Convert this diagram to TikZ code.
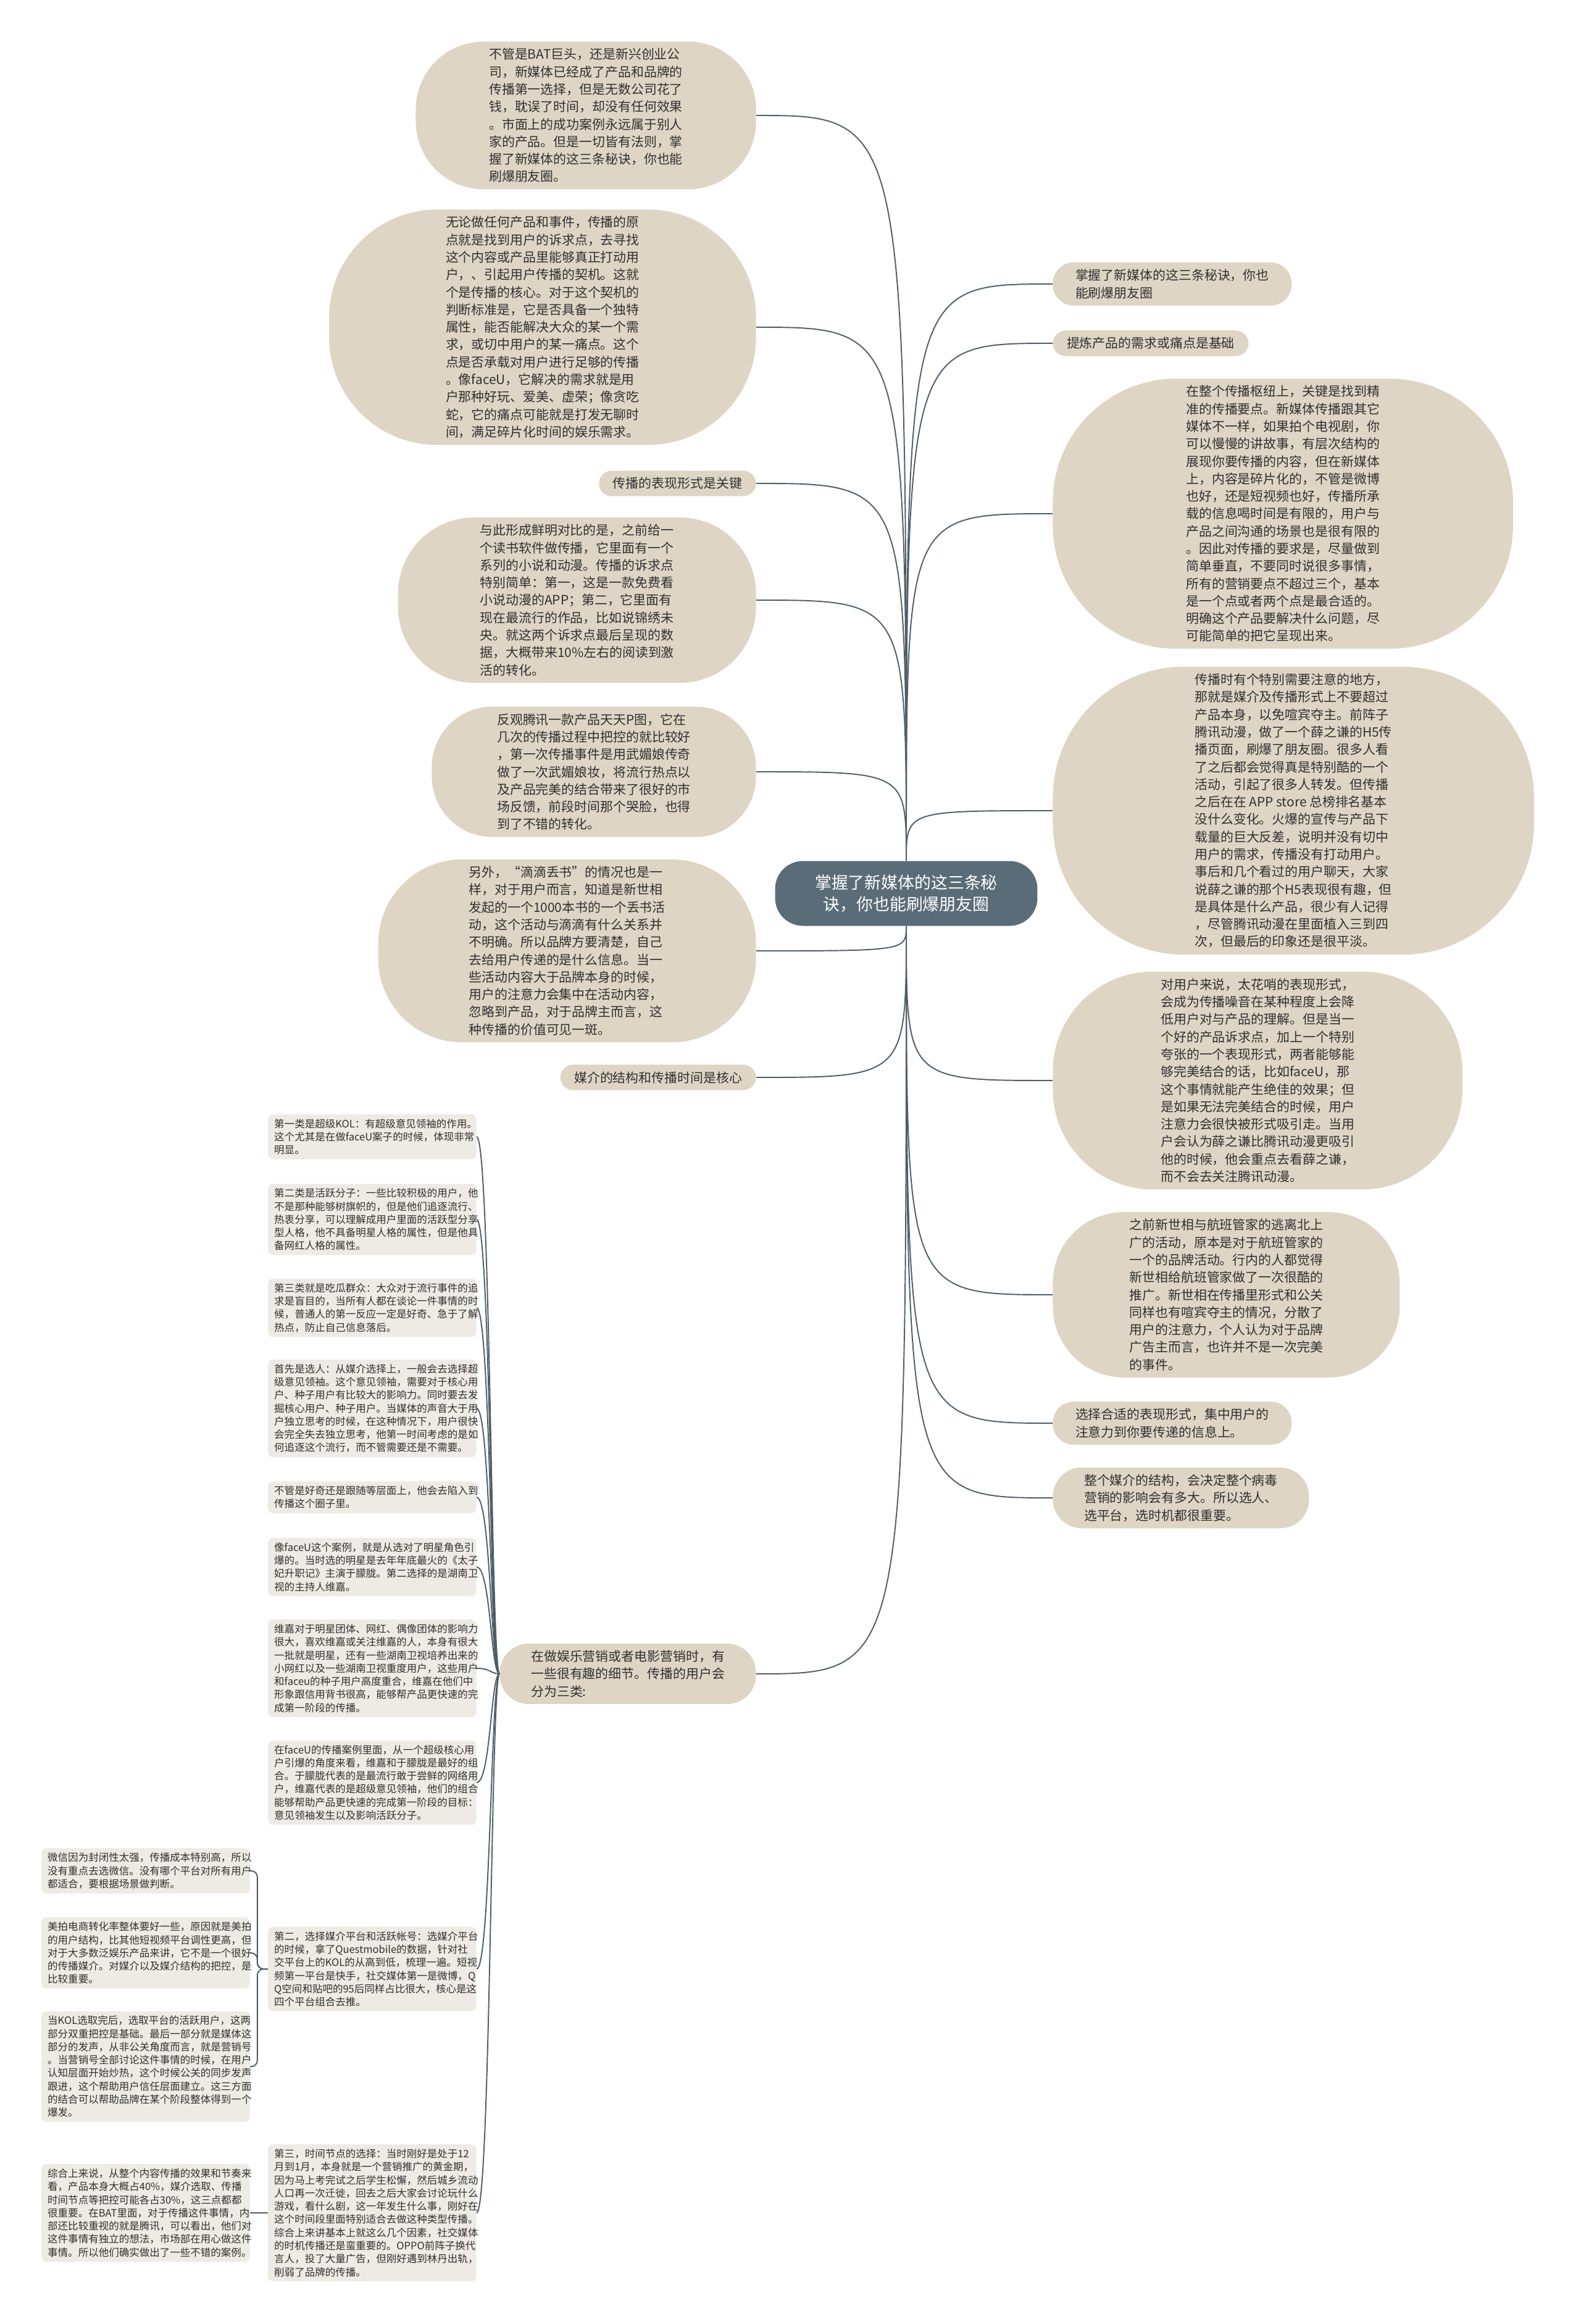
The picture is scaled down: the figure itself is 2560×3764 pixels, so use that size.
\documentclass[tikz,border=0pt]{standalone}
\usepackage{fontspec}
\setmainfont{Noto Sans CJK SC}
\usepackage{tikz}
\usetikzlibrary{backgrounds}
\definecolor{mapslate}{HTML}{5A6C78}
\definecolor{mapline}{HTML}{4D5E6A}
\definecolor{mapsand}{HTML}{DED5C5}
\definecolor{mapcream}{HTML}{EEEBE5}
\definecolor{mapink}{HTML}{303030}

\begin{document}
\begin{tikzpicture}[
    x=0.02cm, y=-0.02cm,
    hub/.style={fill=mapslate, text=white, rounded corners=0.9cm, minimum width=8.5cm,
                minimum height=2.1cm, align=center, font=\fontsize{15.3}{20.4}\selectfont},
    bubble/.style={rectangle, rounded corners=#1, inner xsep=1.08*#1, inner ysep=0.22cm, fill=mapsand,
                   text=mapink, align=left, font=\fontsize{11.9}{16.1}\selectfont},
    leaf/.style={rectangle, rounded corners=0.16cm, fill=mapcream, text=mapink, text width=6.35cm,
                 align=left, inner xsep=0.2cm, inner ysep=0.15cm, font=\fontsize{9.4}{12.1}\selectfont},
    link/.style={draw=mapline, line width=1.1pt},
]
    \useasboundingbox (0, 0) rectangle (2560, 3764);

    \node[hub] (centre) at (1468, 1447) {掌握了新媒体的这三条秘\\诀，你也能刷爆朋友圈};

    % left branch
    \node[bubble=2.2cm, anchor=east] (left1) at (1225, 187) {不管是BAT巨头，还是新兴创业公\\司，新媒体已经成了产品和品牌的\\传播第一选择，但是无数公司花了\\钱，耽误了时间，却没有任何效果\\。市面上的成功案例永远属于别人\\家的产品。但是一切皆有法则，掌\\握了新媒体的这三条秘诀，你也能\\刷爆朋友圈。};
    \node[bubble=3.5cm, anchor=east] (left2) at (1225, 530) {无论做任何产品和事件，传播的原\\点就是找到用户的诉求点，去寻找\\这个内容或产品里能够真正打动用\\户，、引起用户传播的契机。这就\\个是传播的核心。对于这个契机的\\判断标准是，它是否具备一个独特\\属性，能否能解决大众的某一个需\\求，或切中用户的某一痛点。这个\\点是否承载对用户进行足够的传播\\。像faceU，它解决的需求就是用\\户那种好玩、爱美、虚荣；像贪吃\\蛇，它的痛点可能就是打发无聊时\\间，满足碎片化时间的娱乐需求。};
    \node[bubble=0.42cm, anchor=east] (left3) at (1225, 783) {传播的表现形式是关键};
    \node[bubble=2.46cm, anchor=east] (left4) at (1225, 972) {与此形成鲜明对比的是，之前给一\\个读书软件做传播，它里面有一个\\系列的小说和动漫。传播的诉求点\\特别简单：第一，这是一款免费看\\小说动漫的APP；第二，它里面有\\现在最流行的作品，比如说锦绣未\\央。就这两个诉求点最后呈现的数\\据，大概带来10\%左右的阅读到激\\活的转化。};
    \node[bubble=1.96cm, anchor=east] (left5) at (1225, 1250) {反观腾讯一款产品天天P图，它在\\几次的传播过程中把控的就比较好\\，第一次传播事件是用武媚娘传奇\\做了一次武媚娘妆，将流行热点以\\及产品完美的结合带来了很好的市\\场反馈，前段时间那个哭脸，也得\\到了不错的转化。};
    \node[bubble=2.72cm, anchor=east] (left6) at (1225, 1540) {另外，“滴滴丢书”的情况也是一\\样，对于用户而言，知道是新世相\\发起的一个1000本书的一个丢书活\\动，这个活动与滴滴有什么关系并\\不明确。所以品牌方要清楚，自己\\去给用户传递的是什么信息。当一\\些活动内容大于品牌本身的时候，\\用户的注意力会集中在活动内容，\\忽略到产品，对于品牌主而言，这\\种传播的价值可见一斑。};
    \node[bubble=0.42cm, anchor=east] (left7) at (1225, 1745) {媒介的结构和传播时间是核心};
    \node[bubble=0.94cm, anchor=east] (left8) at (1225, 2711) {在做娱乐营销或者电影营销时，有\\一些很有趣的细节。传播的用户会\\分为三类:};

    % right branch
    \node[bubble=0.68cm, anchor=west] (right1) at (1705, 460) {掌握了新媒体的这三条秘诀，你也\\能刷爆朋友圈};
    \node[bubble=0.42cm, anchor=west] (right2) at (1705, 556) {提炼产品的需求或痛点是基础};
    \node[bubble=4.0cm, anchor=west] (right3) at (1705, 832) {在整个传播枢纽上，关键是找到精\\准的传播要点。新媒体传播跟其它\\媒体不一样，如果拍个电视剧，你\\可以慢慢的讲故事，有层次结构的\\展现你要传播的内容，但在新媒体\\上，内容是碎片化的，不管是微博\\也好，还是短视频也好，传播所承\\载的信息喝时间是有限的，用户与\\产品之间沟通的场景也是很有限的\\。因此对传播的要求是，尽量做到\\简单垂直，不要同时说很多事情，\\所有的营销要点不超过三个，基本\\是一个点或者两个点是最合适的。\\明确这个产品要解决什么问题，尽\\可能简单的把它呈现出来。};
    \node[bubble=4.26cm, anchor=west] (right4) at (1705, 1313) {传播时有个特别需要注意的地方，\\那就是媒介及传播形式上不要超过\\产品本身，以免喧宾夺主。前阵子\\腾讯动漫，做了一个薛之谦的H5传\\播页面，刷爆了朋友圈。很多人看\\了之后都会觉得真是特别酷的一个\\活动，引起了很多人转发。但传播\\之后在在 APP store 总榜排名基本\\没什么变化。火爆的宣传与产品下\\载量的巨大反差，说明并没有切中\\用户的需求，传播没有打动用户。\\事后和几个看过的用户聊天，大家\\说薛之谦的那个H5表现很有趣，但\\是具体是什么产品，很少有人记得\\，尽管腾讯动漫在里面植入三到四\\次，但最后的印象还是很平淡。};
    \node[bubble=3.24cm, anchor=west] (right5) at (1705, 1750) {对用户来说，太花哨的表现形式，\\会成为传播噪音在某种程度上会降\\低用户对与产品的理解。但是当一\\个好的产品诉求点，加上一个特别\\夸张的一个表现形式，两者能够能\\够完美结合的话，比如faceU，那\\这个事情就能产生绝佳的效果；但\\是如果无法完美结合的时候，用户\\注意力会很快被形式吸引走。当用\\户会认为薛之谦比腾讯动漫更吸引\\他的时候，他会重点去看薛之谦，\\而不会去关注腾讯动漫。};
    \node[bubble=2.3cm, anchor=west] (right6) at (1705, 2097) {之前新世相与航班管家的逃离北上\\广的活动，原本是对于航班管家的\\一个的品牌活动。行内的人都觉得\\新世相给航班管家做了一次很酷的\\推广。新世相在传播里形式和公关\\同样也有喧宾夺主的情况，分散了\\用户的注意力，个人认为对于品牌\\广告主而言，也许并不是一次完美\\的事件。};
    \node[bubble=0.68cm, anchor=west] (right7) at (1705, 2305) {选择合适的表现形式，集中用户的\\注意力到你要传递的信息上。};
    \node[bubble=0.94cm, anchor=west] (right8) at (1705, 2426) {整个媒介的结构，会决定整个病毒\\营销的影响会有多大。所以选人、\\选平台，选时机都很重要。};

    % three kinds of users and the detail boxes
    \node[leaf, anchor=east] (tip1) at (772, 1841) {第一类是超级KOL：有超级意见领袖的作用。\\这个尤其是在做faceU案子的时候，体现非常\\明显。};
    \node[leaf, anchor=east] (tip2) at (772, 1975) {第二类是活跃分子：一些比较积极的用户，他\\不是那种能够树旗帜的，但是他们追逐流行、\\热衷分享，可以理解成用户里面的活跃型分享\\型人格，他不具备明星人格的属性，但是他具\\备网红人格的属性。};
    \node[leaf, anchor=east] (tip3) at (772, 2118) {第三类就是吃瓜群众：大众对于流行事件的追\\求是盲目的，当所有人都在谈论一件事情的时\\候，普通人的第一反应一定是好奇、急于了解\\热点，防止自己信息落后。};
    \node[leaf, anchor=east] (tip4) at (772, 2281) {首先是选人：从媒介选择上，一般会去选择超\\级意见领袖。这个意见领袖，需要对于核心用\\户、种子用户有比较大的影响力。同时要去发\\掘核心用户、种子用户。当媒体的声音大于用\\户独立思考的时候，在这种情况下，用户很快\\会完全失去独立思考，他第一时间考虑的是如\\何追逐这个流行，而不管需要还是不需要。};
    \node[leaf, anchor=east] (tip5) at (772, 2425) {不管是好奇还是跟随等层面上，他会去陷入到\\传播这个圈子里。};
    \node[leaf, anchor=east] (tip6) at (772, 2538) {像faceU这个案例，就是从选对了明星角色引\\爆的。当时选的明星是去年年底最火的《太子\\妃升职记》主演于朦胧。第二选择的是湖南卫\\视的主持人维嘉。};
    \node[leaf, anchor=east] (tip7) at (772, 2702) {维嘉对于明星团体、网红、偶像团体的影响力\\很大，喜欢维嘉或关注维嘉的人，本身有很大\\一批就是明星，还有一些湖南卫视培养出来的\\小网红以及一些湖南卫视重度用户，这些用户\\和faceu的种子用户高度重合，维嘉在他们中\\形象跟信用背书很高，能够帮产品更快速的完\\成第一阶段的传播。};
    \node[leaf, anchor=east] (tip8) at (772, 2887) {在faceU的传播案例里面，从一个超级核心用\\户引爆的角度来看，维嘉和于朦胧是最好的组\\合。于朦胧代表的是最流行敢于尝鲜的网络用\\户，维嘉代表的是超级意见领袖，他们的组合\\能够帮助产品更快速的完成第一阶段的目标：\\意见领袖发生以及影响活跃分子。};
    \node[leaf, anchor=east] (tip9) at (772, 3189) {第二，选择媒介平台和活跃帐号：选媒介平台\\的时候，拿了Questmobile的数据，针对社\\交平台上的KOL的从高到低，梳理一遍。短视\\频第一平台是快手，社交媒体第一是微博，Q\\Q空间和贴吧的95后同样占比很大，核心是这\\四个平台组合去推。};
    \node[leaf, anchor=east] (tip10) at (772, 3584) {第三，时间节点的选择：当时刚好是处于12\\月到1月，本身就是一个营销推广的黄金期，\\因为马上考完试之后学生松懈，然后城乡流动\\人口再一次迁徙，回去之后大家会讨论玩什么\\游戏，看什么剧，这一年发生什么事，刚好在\\这个时间段里面特别适合去做这种类型传播。\\综合上来讲基本上就这么几个因素，社交媒体\\的时机传播还是蛮重要的。OPPO前阵子换代\\言人，投了大量广告，但刚好遇到林丹出轨，\\削弱了品牌的传播。};

    \node[leaf, anchor=east] (plat1) at (405, 3030) {微信因为封闭性太强，传播成本特别高，所以\\没有重点去选微信。没有哪个平台对所有用户\\都适合，要根据场景做判断。};
    \node[leaf, anchor=east] (plat2) at (405, 3163) {美拍电商转化率整体要好一些，原因就是美拍\\的用户结构，比其他短视频平台调性更高，但\\对于大多数泛娱乐产品来讲，它不是一个很好\\的传播媒介。对媒介以及媒介结构的把控，是\\比较重要。};
    \node[leaf, anchor=east] (plat3) at (405, 3347) {当KOL选取完后，选取平台的活跃用户，这两\\部分双重把控是基础。最后一部分就是媒体这\\部分的发声，从非公关角度而言，就是营销号\\。当营销号全部讨论这件事情的时候，在用户\\认知层面开始炒热，这个时候公关的同步发声\\跟进，这个帮助用户信任层面建立。这三方面\\的结合可以帮助品牌在某个阶段整体得到一个\\爆发。};
    \node[leaf, anchor=east] (summary) at (405, 3584) {综合上来说，从整个内容传播的效果和节奏来\\看，产品本身大概占40\%，媒介选取、传播\\时间节点等把控可能各占30\%，这三点都都\\很重要。在BAT里面，对于传播这件事情，内\\部还比较重视的就是腾讯，可以看出，他们对\\这件事情有独立的想法，市场部在用心做这件\\事情。所以他们确实做出了一些不错的案例。};

    \coordinate (spine) at (795, 2711);

    \begin{scope}[on background layer]
        \draw[link] (centre) .. controls (centre |- left1.east) .. (left1.east);
        \draw[link] (centre) .. controls (centre |- left2.east) .. (left2.east);
        \draw[link] (centre) .. controls (centre |- left3.east) .. (left3.east);
        \draw[link] (centre) .. controls (centre |- left4.east) .. (left4.east);
        \draw[link] (centre) .. controls (centre |- left5.east) .. (left5.east);
        \draw[link] (centre) .. controls (centre |- left6.east) .. (left6.east);
        \draw[link] (centre) .. controls (centre |- left7.east) .. (left7.east);
        \draw[link] (centre) .. controls (centre |- left8.east) .. (left8.east);
        \draw[link] (centre) .. controls (centre |- right1.west) .. (right1.west);
        \draw[link] (centre) .. controls (centre |- right2.west) .. (right2.west);
        \draw[link] (centre) .. controls (centre |- right3.west) .. (right3.west);
        \draw[link] (centre) .. controls (centre |- right4.west) .. (right4.west);
        \draw[link] (centre) .. controls (centre |- right5.west) .. (right5.west);
        \draw[link] (centre) .. controls (centre |- right6.west) .. (right6.west);
        \draw[link] (centre) .. controls (centre |- right7.west) .. (right7.west);
        \draw[link] (centre) .. controls (centre |- right8.west) .. (right8.west);

        % user types hang off one spine
        \draw[link] (left8.west) .. controls (spine) and (spine |- tip1.east) .. (tip1.east);
        \draw[link] (left8.west) .. controls (spine) and (spine |- tip2.east) .. (tip2.east);
        \draw[link] (left8.west) .. controls (spine) and (spine |- tip3.east) .. (tip3.east);
        \draw[link] (left8.west) .. controls (spine) and (spine |- tip4.east) .. (tip4.east);
        \draw[link] (left8.west) .. controls (spine) and (spine |- tip5.east) .. (tip5.east);
        \draw[link] (left8.west) .. controls (spine) and (spine |- tip6.east) .. (tip6.east);
        \draw[link] (left8.west) .. controls (spine) and (spine |- tip7.east) .. (tip7.east);
        \draw[link] (left8.west) .. controls (spine) and (spine |- tip8.east) .. (tip8.east);
        \draw[link] (left8.west) .. controls (spine) and (spine |- tip9.east) .. (tip9.east);
        \draw[link] (left8.west) .. controls (spine) and (spine |- tip10.east) .. (tip10.east);

        \draw[link, rounded corners=0.2cm] (tip9.west) -- ++(-17, 0) |- (plat1.east);
        \draw[link, rounded corners=0.2cm] (tip9.west) -- ++(-17, 0) |- (plat2.east);
        \draw[link, rounded corners=0.2cm] (tip9.west) -- ++(-17, 0) |- (plat3.east);
        \draw[link] (tip10.west) -- (summary.east);
    \end{scope}
\end{tikzpicture}
\end{document}
